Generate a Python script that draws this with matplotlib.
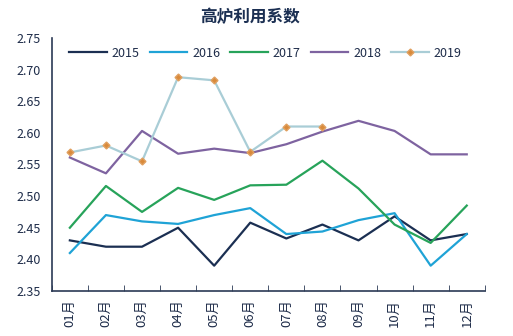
import matplotlib
matplotlib.use("Agg")
import matplotlib.pyplot as plt
import numpy as np

plt.rcParams["font.family"] = ["Noto Sans CJK SC", "DejaVu Sans"]

# ── data ──────────────────────────────────────────────────────────────────────
months = ["01月", "02月", "03月", "04月", "05月", "06月",
          "07月", "08月", "09月", "10月", "11月", "12月"]
y2015 = [2.430, 2.420, 2.420, 2.450, 2.390, 2.458, 2.433, 2.455, 2.430, 2.468, 2.430, 2.440]
y2016 = [2.410, 2.470, 2.460, 2.456, 2.470, 2.481, 2.440, 2.444, 2.462, 2.473, 2.390, 2.440]
y2017 = [2.450, 2.516, 2.475, 2.513, 2.494, 2.517, 2.518, 2.556, 2.512, 2.455, 2.426, 2.485]
y2018 = [2.561, 2.536, 2.603, 2.567, 2.575, 2.568, 2.582, 2.602, 2.619, 2.603, 2.566, 2.566]
y2019 = [2.569, 2.580, 2.555, 2.688, 2.683, 2.570, 2.610, 2.610]

NAVY = "#1f2d4a"

fig = plt.figure(figsize=(5.13, 3.36), dpi=100)
ax = fig.add_axes([0.101, 0.134, 0.844, 0.753])

x = np.arange(len(months))
ax.plot(x, y2015, color="#1b2f52", lw=1.6, label="2015")
ax.plot(x, y2016, color="#1fa3d6", lw=1.6, label="2016")
ax.plot(x, y2017, color="#27a35a", lw=1.6, label="2017")
ax.plot(x, y2018, color="#7e63a0", lw=1.6, label="2018")
ax.plot(x[:len(y2019)], y2019, color="#a9cdd6", lw=1.6, marker="D", ms=3.5,
        mfc="#d98a3a", mec="#e0a060", label="2019")

ax.set_ylim(2.35, 2.75)
ax.set_yticks(np.arange(2.35, 2.751, 0.05))
ax.set_yticklabels([f"{v:.2f}" for v in np.arange(2.35, 2.751, 0.05)])
ax.set_xlim(-0.5, len(months) - 0.5)
ax.set_xticks(x)
ax.set_xticklabels(months, rotation=90)
ax.set_xticks(np.arange(-0.5, len(months), 1.0), minor=True)

ax.tick_params(axis="x", which="major", length=0, pad=6, labelsize=9.5, colors=NAVY)
ax.tick_params(axis="x", which="minor", direction="in", length=4, color="#2b3a55")
ax.tick_params(axis="y", length=0, pad=8, labelsize=9, colors=NAVY)

for s in ("top", "right"):
    ax.spines[s].set_visible(False)
for s in ("left", "bottom"):
    ax.spines[s].set_color("#2b3a55")
    ax.spines[s].set_linewidth(1.2)

fig.suptitle("高炉利用系数", x=0.487, y=0.975, fontsize=12, fontweight="bold",
             color="#1b2f52")
ax.legend(loc="upper left", ncol=5, frameon=False, fontsize=9, handlelength=3.0,
          columnspacing=0.8, handletextpad=0.4, bbox_to_anchor=(0.02, 1.0),
          labelcolor=NAVY, borderaxespad=0.3)

fig.savefig("out.png", dpi=100)
